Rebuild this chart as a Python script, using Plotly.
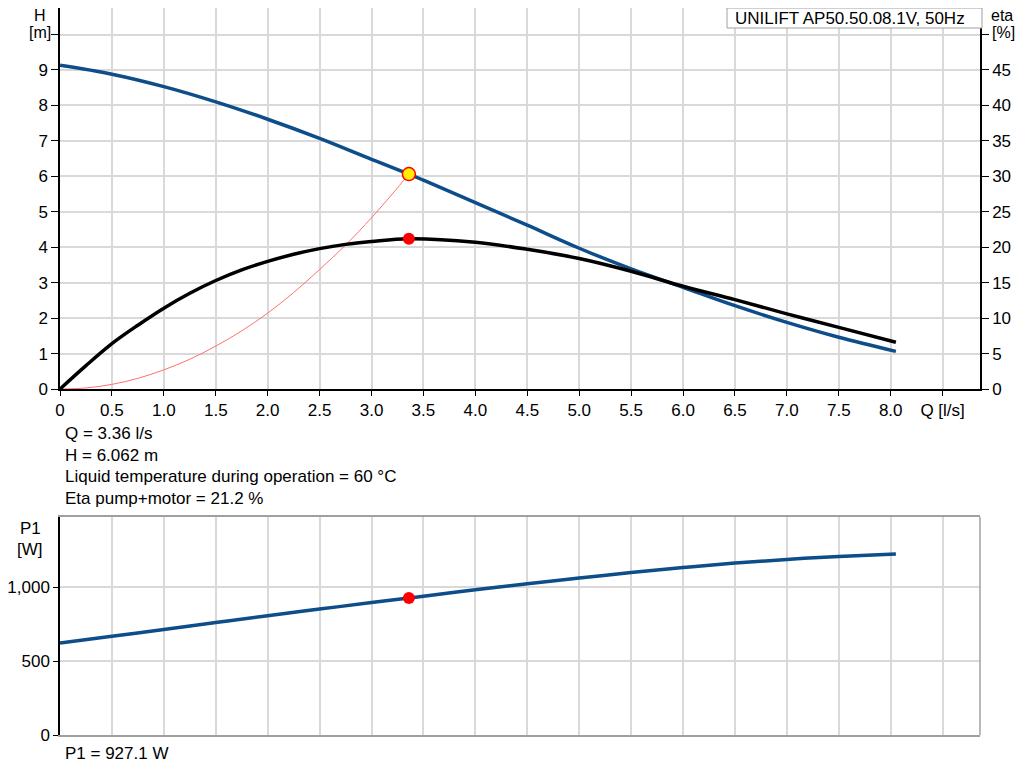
import plotly.graph_objects as go

# page body has an 8px margin, so the figure is drawn a bit smaller
W, H = 1008, 754
OFF = 8

# flow axis, l/s
q_ticks = [0, 0.5, 1.0, 1.5, 2.0, 2.5, 3.0, 3.5, 4.0, 4.5, 5.0, 5.5, 6.0, 6.5, 7.0, 7.5, 8.0, 8.5]
q_labels = ["0", "0.5", "1.0", "1.5", "2.0", "2.5", "3.0", "3.5", "4.0", "4.5", "5.0",
            "5.5", "6.0", "6.5", "7.0", "7.5", "8.0", "Q [l/s]"]

# pump curves
q = [0, 0.5, 1.0, 1.5, 2.0, 2.5, 3.0, 3.36, 3.5, 4.0, 4.5, 5.0, 5.5, 6.0, 6.5, 7.0, 7.5, 8.05]
head = [9.13, 8.88, 8.53, 8.10, 7.61, 7.07, 6.48, 6.062, 5.89, 5.26, 4.62, 3.97, 3.39, 2.87, 2.35, 1.88, 1.46, 1.06]
p1 = [622, 668, 714, 761, 807, 852, 896, 927.1, 939, 982, 1023, 1062, 1099, 1133, 1163, 1188, 1208, 1225]

q_eta = [0, 0.25, 0.5, 0.75, 1.0, 1.25, 1.5, 1.75, 2.0, 2.25, 2.5, 2.75, 3.0, 3.36, 4.0, 4.5, 5.0, 5.5, 6.0, 6.5, 7.0, 7.5, 8.05]
eta = [0, 3.3, 6.4, 9.0, 11.4, 13.5, 15.3, 16.8, 18.0, 19.0, 19.8, 20.4, 20.8, 21.2, 20.7, 19.7, 18.4, 16.6, 14.5, 12.6, 10.6, 8.7, 6.6]

# system curve up to the duty point
q_sys = [0, 0.25, 0.5, 0.75, 1.0, 1.25, 1.5, 1.75, 2.0, 2.25, 2.5, 2.75, 3.0, 3.2, 3.36]
h_sys = [0, 0.03, 0.13, 0.30, 0.54, 0.84, 1.21, 1.64, 2.14, 2.72, 3.37, 4.06, 4.83, 5.50, 6.062]

# duty point
q_op, h_op, eta_op, p1_op = 3.36, 6.062, 21.2, 927.1

h_ticks = [0, 1, 2, 3, 4, 5, 6, 7, 8, 9, 10]
eta_ticks = [0, 5, 10, 15, 20, 25, 30, 35, 40, 45, 50]
p1_ticks = [0, 500, 1000]
p1_labels = ["0", "500", "1,000"]

BLUE = "#0d4d89"
GRID = "#d9d9d9"
FONT = "Liberation Sans, Arial, sans-serif"
FS = 17


def px(x):
    return (x - OFF) / W


def py(y):
    return 1 - (y - OFF) / H


fig = go.Figure()

fig.add_trace(go.Scatter(x=q_sys, y=h_sys, mode="lines", line=dict(color="#ff7070", width=1, shape="spline"),
                         xaxis="x", yaxis="y", hoverinfo="skip"))
fig.add_trace(go.Scatter(x=q_eta, y=eta, mode="lines", line=dict(color="black", width=3.5, shape="spline"),
                         xaxis="x", yaxis="y2"))
fig.add_trace(go.Scatter(x=q, y=head, mode="lines", line=dict(color=BLUE, width=3.5, shape="spline"),
                         xaxis="x", yaxis="y"))
fig.add_trace(go.Scatter(x=[q_op], y=[eta_op], mode="markers",
                         marker=dict(color="red", size=12), xaxis="x", yaxis="y2"))
fig.add_trace(go.Scatter(x=[q_op], y=[h_op], mode="markers",
                         marker=dict(color="#ffee00", size=13, line=dict(color="red", width=1.5)),
                         xaxis="x", yaxis="y"))

# power curve
fig.add_trace(go.Scatter(x=q, y=p1, mode="lines", line=dict(color=BLUE, width=3.5, shape="spline"),
                         xaxis="x2", yaxis="y3"))
fig.add_trace(go.Scatter(x=[q_op], y=[p1_op], mode="markers",
                         marker=dict(color="red", size=12), xaxis="x2", yaxis="y3"))

x_dom = [px(60), px(980)]
q_range = [0, 8.86]
h_top = (389 - OFF) / 35.45
axfont = dict(family=FONT, size=FS, color="black")

fig.update_layout(
    width=W, height=H,
    margin=dict(l=0, r=0, t=0, b=0),
    paper_bgcolor="white", plot_bgcolor="white",
    showlegend=False,
    font=axfont,
    xaxis=dict(domain=x_dom, range=q_range, tickvals=q_ticks, ticktext=q_labels,
               showgrid=True, gridcolor=GRID, gridwidth=1.5, zeroline=False,
               showline=True, linecolor="black", linewidth=1.5, automargin=False,
               ticks="outside", ticklen=5, tickcolor="black", anchor="y", tickfont=axfont),
    yaxis=dict(domain=[py(389), 1.0], range=[0, h_top], tickvals=h_ticks,
               ticktext=[str(v) for v in h_ticks[:-1]] + [""],
               showgrid=True, gridcolor=GRID, gridwidth=1.5, zeroline=False,
               showline=True, linecolor="black", linewidth=1.5, automargin=False,
               ticks="outside", ticklen=7, tickcolor="black", anchor="x", tickfont=axfont),
    yaxis2=dict(domain=[py(389), 1.0], range=[0, h_top * 5], tickvals=eta_ticks,
                ticktext=[str(v) for v in eta_ticks[:-1]] + [""],
                overlaying="y", side="right", anchor="x", showgrid=False, zeroline=False,
                showline=True, linecolor="black", linewidth=1.5, automargin=False,
                ticks="outside", ticklen=7, tickcolor="black", tickfont=axfont),
    xaxis2=dict(domain=x_dom, range=q_range, tickvals=q_ticks, showticklabels=False,
                showgrid=True, gridcolor=GRID, gridwidth=1.5, zeroline=False,
                showline=True, linecolor="#a0a0a0", linewidth=1.5, mirror=True,
                automargin=False, anchor="y3"),
    yaxis3=dict(domain=[py(735), py(517)], range=[0, 1475], tickvals=p1_ticks, ticktext=p1_labels,
                showgrid=True, gridcolor=GRID, gridwidth=1.5, zeroline=False,
                showline=True, linecolor="black", linewidth=1.5, automargin=False,
                ticks="outside", ticklen=5, tickcolor="black", anchor="x2", tickfont=axfont),
)

# right edge of the power chart frame in grey
fig.add_shape(type="line", xref="paper", yref="paper", x0=px(980), x1=px(980),
              y0=py(735), y1=py(517), line=dict(color="#a0a0a0", width=1.5))

# pump name box in the top right corner
fig.add_shape(type="rect", xref="paper", yref="paper", x0=px(727), x1=px(982),
              y0=py(28), y1=py(8), line=dict(color="#a0a0a0", width=1), fillcolor="white")

notes = [
    ("H", 40, 15, "center", 16),
    ("[m]", 40, 32, "center", 16),
    ("eta", 1002, 15, "center", 16),
    ("[%]", 1003, 33, "center", 16),
    ("P1", 30, 528, "center", FS),
    ("[W]", 30, 549, "center", FS),
    ("Q = 3.36 l/s", 63, 433, "left", FS),
    ("H = 6.062 m", 63, 455, "left", FS),
    ("Liquid temperature during operation = 60 °C", 63, 476, "left", FS),
    ("Eta pump+motor = 21.2 %", 63, 498, "left", FS),
    ("P1 = 927.1 W", 63, 753, "left", FS),
    ("UNILIFT AP50.50.08.1V, 50Hz", 733, 18, "left", FS),
]
for text, x, y, align, size in notes:
    fig.add_annotation(text=text, xref="paper", yref="paper", x=px(x), y=py(y),
                       xanchor=align, yanchor="middle", showarrow=False,
                       font=dict(family=FONT, size=size, color="black"))

fig.write_html("out.html")
